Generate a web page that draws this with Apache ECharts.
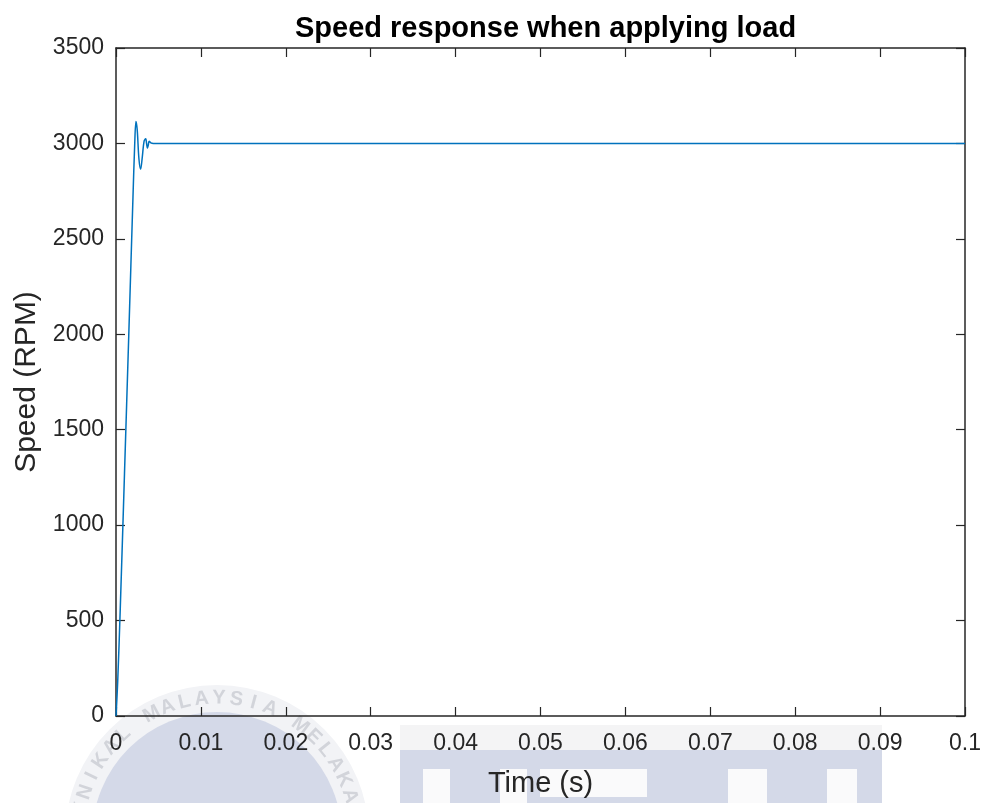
<!DOCTYPE html>
<html><head><meta charset="utf-8">
<script src="https://cdn.jsdelivr.net/npm/echarts@6/dist/echarts.min.js"></script>
<style>html,body{margin:0;padding:0;background:#fff;overflow:hidden}#c{width:984px;height:803px}</style>
</head><body><div id="c"></div>
<script>
const titleText = 'Speed response when applying load';
const xName = 'Time (s)';
const yName = 'Speed (RPM)';
const time = [0, 0.0002, 0.0005, 0.001, 0.0015, 0.002, 0.0022, 0.00235, 0.0025, 0.0027, 0.0029, 0.0031, 0.0033, 0.0035, 0.0036, 0.0037, 0.0038, 0.0039, 0.0041, 0.0044, 0.01, 0.05, 0.1];
const speed = [0, 180, 560, 1270, 1990, 2720, 2990, 3115, 3070, 2920, 2865, 2930, 3010, 3025, 3000, 2975, 2990, 3012, 3003, 3000, 3000, 3000, 3000];
const xTicks = [0,0.01,0.02,0.03,0.04,0.05,0.06,0.07,0.08,0.09,0.1];
const watermarkRing = 'UNIVERSITI TEKNIKAL MALAYSIA MELAKA';

const chart = echarts.init(document.getElementById('c'), null, {renderer:'canvas', width:984, height:803});
const axCol = '#262626';
const font = 'Liberation Sans, Arial, Helvetica, sans-serif';
const data = time.map((t,i)=>[t, speed[i]]);
const xFmt = v => { const r = Math.round(v*100)/100; return r===0?'0':String(r); };

// watermark decoration (behind the chart)
const pale = '#d4d9e8';
const wm = [];
const cx = 217, cy = 837;
wm.push({type:'circle',shape:{cx:cx,cy:cy,r:152},style:{fill:'#f2f3f6'},z:-20,silent:true});
wm.push({type:'circle',shape:{cx:cx,cy:cy,r:125},style:{fill:pale},z:-19,silent:true});
const idxM = watermarkRing.indexOf('MALAYSIA');
for (let i=0;i<watermarkRing.length;i++){
  const ch = watermarkRing[i];
  if (ch===' ') continue;
  const ang = (-28 + (i-idxM)*7.2) * Math.PI/180;
  if (ang < -95*Math.PI/180 || ang > 95*Math.PI/180) continue;
  const r = 139;
  wm.push({type:'text',x:cx + r*Math.sin(ang), y:cy - r*Math.cos(ang), rotation:-ang,
    style:{text:ch,fill:'#d2d4da',font:'bold 20px Liberation Sans, Arial, sans-serif',align:'center',verticalAlign:'middle'},z:-18,silent:true});
}
wm.push({type:'rect',shape:{x:400,y:725,width:482,height:25},style:{fill:'#f4f4f5'},z:-20,silent:true});
wm.push({type:'rect',shape:{x:400,y:750,width:482,height:53},style:{fill:pale},z:-20,silent:true});
const whites = [[423,769,27,40],[500,769,27,40],[540,769,107,28],[728,769,39,40],[827,769,30,40]];
whites.forEach(w=>wm.push({type:'rect',shape:{x:w[0],y:w[1],width:w[2],height:w[3]},style:{fill:'#fafafb'},z:-19,silent:true}));
wm.push({type:'polygon',shape:{points:[[767,769],[827,769],[805,803],[789,803]]},style:{fill:pale},z:-18,silent:true});

chart.setOption({
  animation:false,
  graphic: wm,
  title:{text:titleText,left:290,top:9,textStyle:{fontFamily:font,fontSize:29,fontWeight:'bold',color:'#000'}},
  grid:{left:116,right:18,top:48,bottom:84,containLabel:false},
  xAxis:[{type:'value',min:0,max:0.1,interval:0.01,position:'bottom',
    name:xName,nameLocation:'middle',nameGap:53,nameTextStyle:{fontFamily:font,fontSize:29,color:axCol},
    axisLine:{show:true,onZero:false,lineStyle:{color:axCol,width:1.5}},
    axisTick:{show:true,inside:true,length:9,lineStyle:{color:axCol,width:1.2}},
    axisLabel:{fontFamily:font,fontSize:23,color:axCol,margin:16,formatter:xFmt},
    splitLine:{show:false}},
   {type:'value',min:0,max:0.1,interval:0.01,position:'top',
    axisLine:{show:true,onZero:false,lineStyle:{color:axCol,width:1.5}},
    axisTick:{show:true,inside:true,length:9,lineStyle:{color:axCol,width:1.2}},
    axisLabel:{show:false},splitLine:{show:false}}],
  yAxis:[{type:'value',min:0,max:3500,interval:500,position:'left',
    name:yName,nameLocation:'middle',nameGap:70,nameRotate:90,nameTextStyle:{fontFamily:font,fontSize:30,color:axCol},
    axisLine:{show:true,onZero:false,lineStyle:{color:axCol,width:1.5}},
    axisTick:{show:true,inside:true,length:9,lineStyle:{color:axCol,width:1.2}},
    axisLabel:{fontFamily:font,fontSize:23,color:axCol,margin:12,formatter:v=>String(v)},
    splitLine:{show:false}},
   {type:'value',min:0,max:3500,interval:500,position:'right',
    axisLine:{show:true,onZero:false,lineStyle:{color:axCol,width:1.5}},
    axisTick:{show:true,inside:true,length:9,lineStyle:{color:axCol,width:1.2}},
    axisLabel:{show:false},splitLine:{show:false}}],
  series:[{type:'line',data:data,showSymbol:false,smooth:0.35,lineStyle:{color:'#0072BD',width:1.5},clip:true,z:5}]
});
</script></body></html>
